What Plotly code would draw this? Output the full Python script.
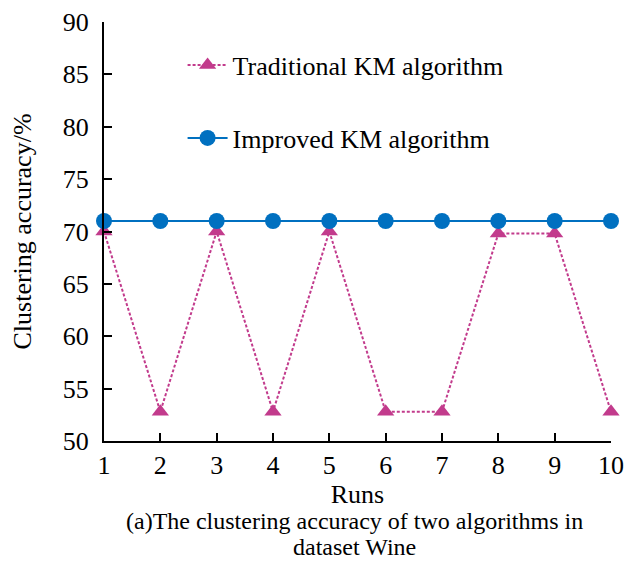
import plotly.graph_objects as go

runs = [1, 2, 3, 4, 5, 6, 7, 8, 9, 10]
traditional = [70.0, 52.8, 70.0, 52.8, 70.0, 52.8, 52.8, 69.8, 69.8, 52.8]
improved = [71.0, 71.0, 71.0, 71.0, 71.0, 71.0, 71.0, 71.0, 71.0, 71.0]
y_ticks = [50, 55, 60, 65, 70, 75, 80, 85, 90]

FONT = "Liberation Serif, Times New Roman, DejaVu Serif, serif"
FS = 26
CAP_FS = 24
fig = go.Figure()
fig.add_trace(go.Scatter(
    x=runs, y=traditional, mode="lines+markers", name="Traditional KM algorithm",
    legendgroup="a",
    line=dict(color="#C23B8C", width=2, dash="3px,2px"),
    marker=dict(symbol="triangle-up", size=15, color="#C23B8C"),
    cliponaxis=False))
fig.add_trace(go.Scatter(
    x=runs, y=improved, mode="lines+markers", name="Improved KM algorithm",
    legendgroup="b",
    line=dict(color="#0070C0", width=2),
    marker=dict(symbol="circle", size=16, color="#0070C0"),
    cliponaxis=False))

fig.update_layout(
    width=624, height=563,
    margin=dict(l=104, r=13, t=22, b=122, autoexpand=False),
    plot_bgcolor="white", paper_bgcolor="white",
    font=dict(family=FONT, size=FS, color="black"),
    showlegend=True,
    legend=dict(x=0.155, y=0.953, xanchor="left", yanchor="top",
                bgcolor="rgba(0,0,0,0)", font=dict(family=FONT, size=FS),
                tracegroupgap=36, itemwidth=40),
    xaxis=dict(range=[1, 10], tickvals=runs, showline=True, linecolor="black",
               linewidth=2, ticks="inside", ticklen=8, tickwidth=2,
               tickcolor="black", showgrid=False, zeroline=False,
               tickfont=dict(family=FONT, size=FS), ticklabelstandoff=0,
               title=dict(text="Runs", font=dict(family=FONT, size=FS), standoff=4)),
    yaxis=dict(range=[50, 90], tickvals=y_ticks, showline=True, linecolor="black",
               linewidth=2, ticks="inside", ticklen=8, tickwidth=2,
               tickcolor="black", showgrid=False, zeroline=False,
               tickfont=dict(family=FONT, size=FS), ticklabelstandoff=8,
               title=dict(text="Clustering accuracy/%", font=dict(family=FONT, size=FS), standoff=24)),
)
fig.add_annotation(
    text="(a)The clustering accuracy of two algorithms in",
    xref="paper", yref="paper", x=0.494, y=-0.191, xanchor="center", yanchor="middle",
    showarrow=False, font=dict(family=FONT, size=CAP_FS))
fig.add_annotation(
    text="dataset Wine",
    xref="paper", yref="paper", x=0.494, y=-0.253, xanchor="center", yanchor="middle",
    showarrow=False, font=dict(family=FONT, size=CAP_FS))
fig.write_html("out.html", config={"displayModeBar": False},
               post_script="document.body.style.margin='0';document.body.style.padding='0';")
